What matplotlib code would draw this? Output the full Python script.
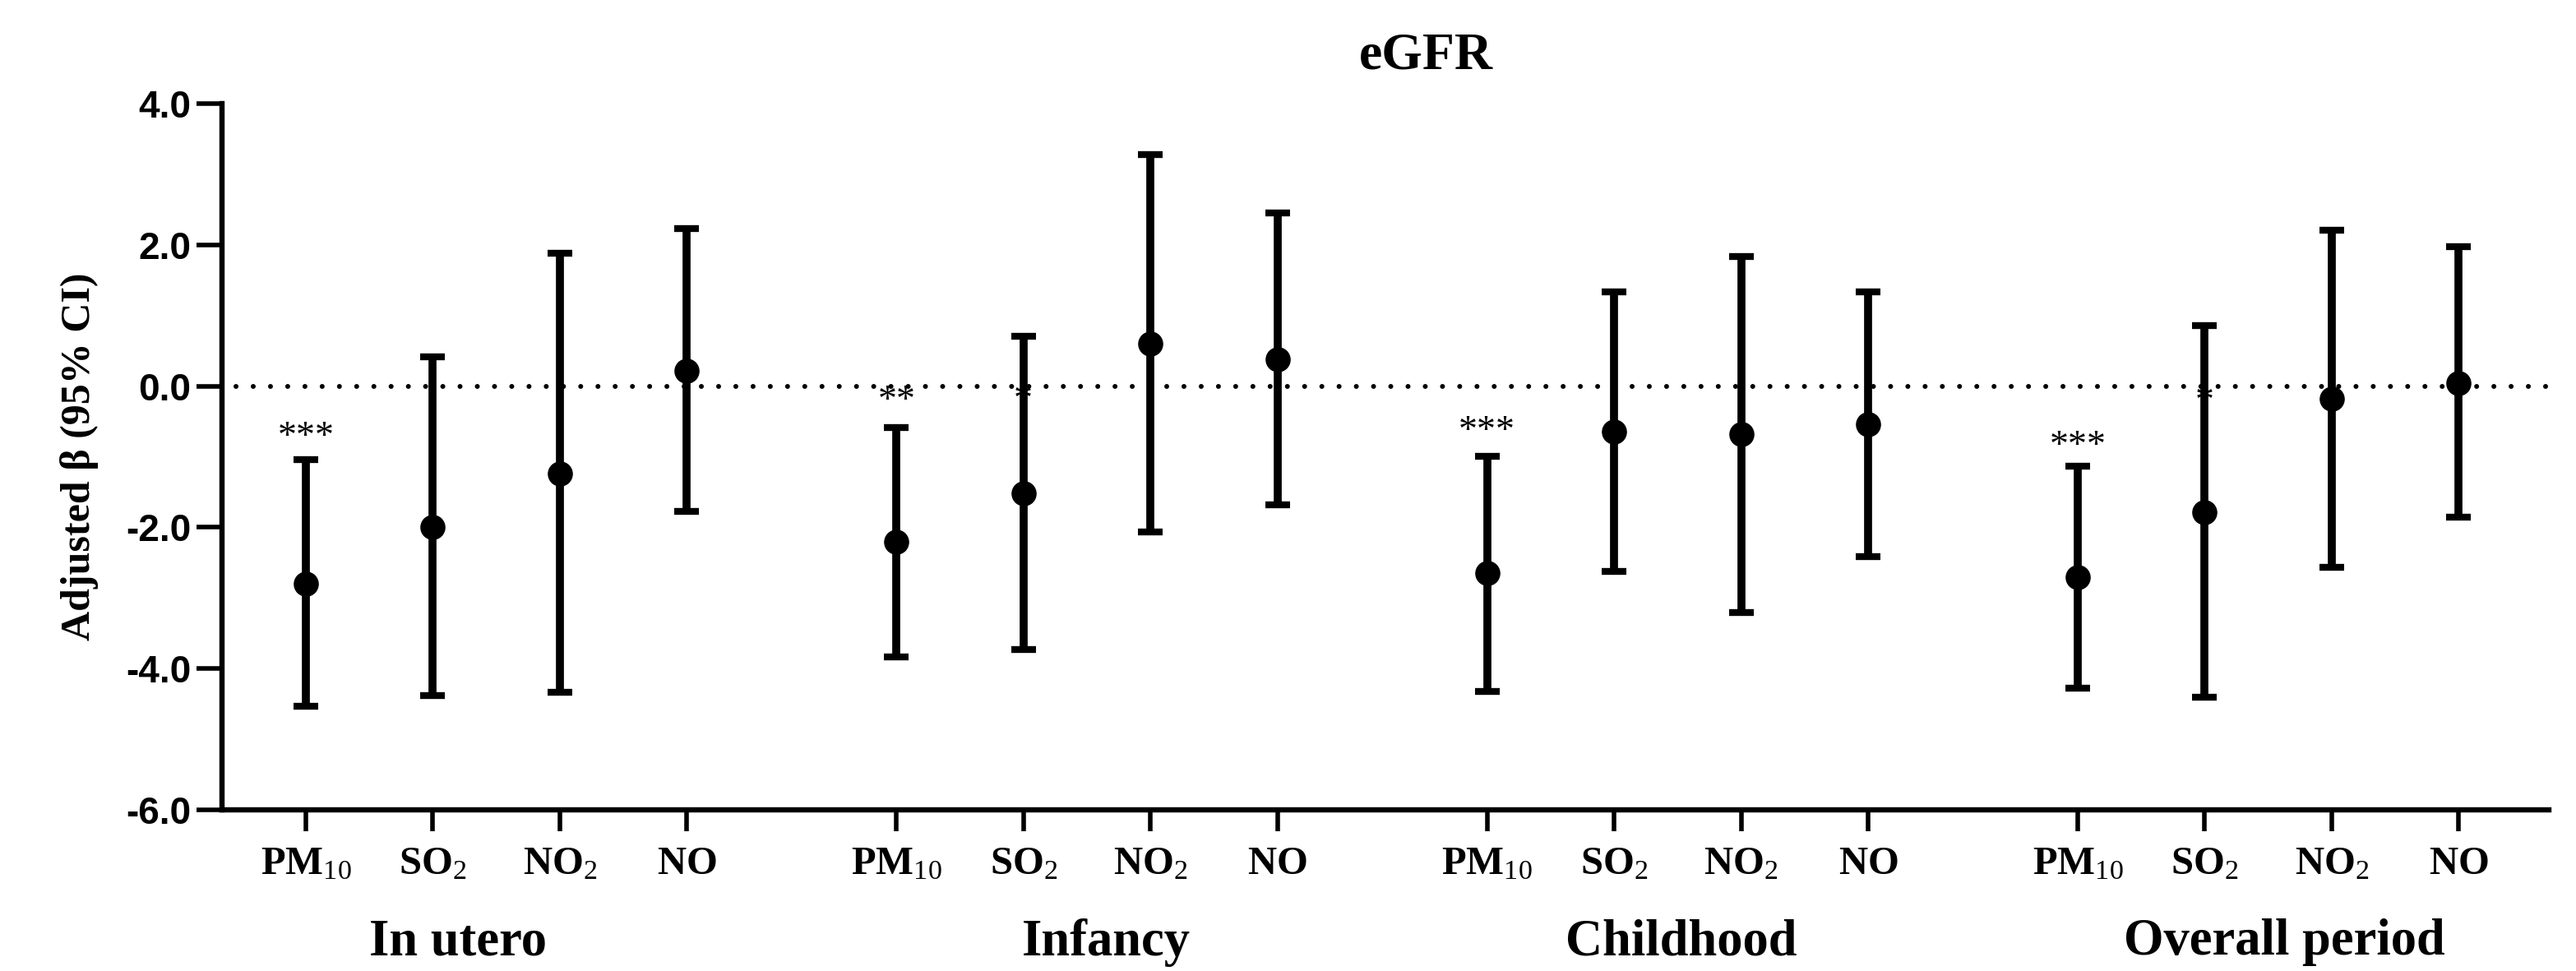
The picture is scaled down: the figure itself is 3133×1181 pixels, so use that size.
import matplotlib
matplotlib.use("Agg")
import matplotlib.pyplot as plt
import matplotlib.transforms as mtransforms
import numpy as np

# ---- data ----
periods = ["In utero", "Infancy", "Childhood", "Overall period"]
pollutants = ["PM10", "SO2", "NO2", "NO"]
pollutant_labels = [r"$\mathbf{PM}_{\mathrm{10}}$", r"$\mathbf{SO}_{\mathrm{2}}$",
                    r"$\mathbf{NO}_{\mathrm{2}}$", r"$\mathbf{NO}$"]

beta = [[-2.80, -1.99, -1.24, 0.22],
        [-2.21, -1.52, 0.60, 0.38],
        [-2.65, -0.64, -0.68, -0.54],
        [-2.70, -1.78, -0.18, 0.04]]
ci_low = [[-4.53, -4.38, -4.33, -1.77],
          [-3.84, -3.73, -2.06, -1.68],
          [-4.32, -2.62, -3.21, -2.42],
          [-4.28, -4.40, -2.56, -1.85]]
ci_high = [[-1.04, 0.41, 1.88, 2.23],
           [-0.585, 0.70, 3.28, 2.45],
           [-0.99, 1.33, 1.84, 1.33],
           [-1.13, 0.86, 2.21, 1.97]]
# significance marks: (period index, pollutant index, label)
sig_marks = [(0, 0, "***"), (1, 0, "**"), (1, 1, "*"),
             (2, 0, "***"), (3, 0, "***"), (3, 1, "*")]
sig_y = [-0.74, -0.22, -0.21, -0.65, -0.86, -0.23]
yticks = [-6.0, -4.0, -2.0, 0.0, 2.0, 4.0]

# ---- style ----
plt.rcParams['mathtext.fontset'] = 'custom'
plt.rcParams['mathtext.bf'] = 'Liberation Serif:bold'
plt.rcParams['mathtext.rm'] = 'Liberation Serif'
plt.rcParams['mathtext.it'] = 'Liberation Serif:italic'

W, H = 3133, 1181
fig = plt.figure(figsize=(W / 100, H / 100), dpi=100)
ax = fig.add_axes([270 / W, 1 - 985 / H, (3100 - 270) / W, (985 - 126) / H])

group_step = 4.65
positions = []
for g in range(len(periods)):
    for i in range(len(pollutants)):
        positions.append(g * group_step + i)
positions = np.array(positions)

b = np.array(beta).ravel()
lo = np.array(ci_low).ravel()
hi = np.array(ci_high).ravel()

ax.axhline(0, color='black', lw=4.3, linestyle=(0, (0.01, 3.5)),
           dash_capstyle='round', zorder=1, xmin=0.006, xmax=0.999)

# significance stars (drawn under the bars)
for (g, i, lab), yy in zip(sig_marks, sig_y):
    ax.text(g * group_step + i, yy, lab, ha='center', va='center',
            fontsize=33, family='Liberation Serif', zorder=2)

ax.errorbar(positions, b, yerr=[b - lo, hi - b], fmt='o', color='black',
            ms=21, elinewidth=7, capsize=11, capthick=6, zorder=3)

ax.set_ylim(-6, 4)
ax.set_xlim(-0.66, 17.66)
ax.set_yticks(yticks)
ax.set_yticklabels([f"{v:.1f}" for v in yticks], family='Liberation Sans',
                   fontweight='bold', fontsize=33)
ax.set_xticks(positions)
ax.set_xticklabels(pollutant_labels * len(periods), fontsize=35)
ax.tick_params(axis='y', length=22, width=4, pad=5)
ax.tick_params(axis='x', length=19, width=4, pad=10)

for s in ['top', 'right']:
    ax.spines[s].set_visible(False)
for s in ['left', 'bottom']:
    ax.spines[s].set_linewidth(4.6)

ax.set_ylabel(r"Adjusted β (95% CI)", family='Liberation Serif',
              fontweight='bold', fontsize=36, labelpad=24)

group_label_offsets = [1.2, 1.65, 1.53, 1.63]
blend = mtransforms.blended_transform_factory(ax.transData, fig.transFigure)
for g, (p, off) in enumerate(zip(periods, group_label_offsets)):
    ax.text(g * group_step + off, 1 - 1146 / H, p, transform=blend,
            ha='center', va='center', family='Liberation Serif',
            fontweight='bold', fontsize=45)

fig.text(1734 / W, 1 - 68 / H, "eGFR", ha='center', va='center',
         family='Liberation Serif', fontweight='bold', fontsize=46)

fig.savefig("out.png", dpi=100)
